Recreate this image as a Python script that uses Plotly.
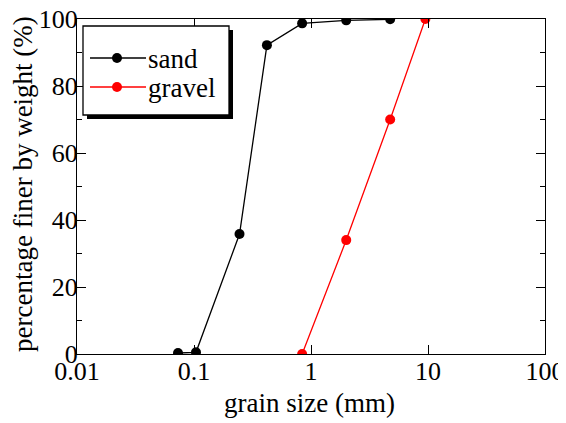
import plotly.graph_objects as go

# data
sand_size = [0.073, 0.104, 0.245, 0.42, 0.84, 2.0, 4.75]
sand_pct = [0.3, 0.5, 35.8, 92.2, 98.7, 99.6, 99.9]
gravel_size = [0.84, 2.0, 4.75, 9.5]
gravel_pct = [0.0, 34.0, 70.0, 100.0]
series_names = ["sand", "gravel"]
series_colors = ["black", "red"]

x_ticks = [0.01, 0.1, 1, 10, 100]
x_ticktext = ["0.01", "0.1", "1", "10", "100"]
y_ticks = [0, 20, 40, 60, 80, 100]
x_title = "grain size (mm)"
y_title = "percentage finer by weight (%)"

FONT = "Liberation Serif, Times New Roman, serif"

fig = go.Figure()
for name, xs, ys, col in zip(series_names, [sand_size, gravel_size], [sand_pct, gravel_pct], series_colors):
    fig.add_trace(go.Scatter(x=xs, y=ys, mode="lines+markers", name=name,
                             line=dict(color=col, width=1.3),
                             marker=dict(color=col, size=10), showlegend=False))

# page body has an 8px margin: shrink the figure so it fills the 566x423 window
OFF = 8
W, H = 566 - OFF, 423 - OFF
PL, PR, PT, PB = 77, 545, 19, 354          # plot area in window pixels
L, T = PL - OFF, PT - OFF
R, B = W + OFF - PR, H + OFF - PB
pw, ph = PR - PL, PB - PT


def px(x):
    return (x - PL) / pw


def py(y):
    return (PB - y) / ph


# legend frame with shadow (drawn manually to match the reference legend box)
fig.add_shape(type="rect", xref="paper", yref="paper", x0=px(87), x1=px(233), y0=py(119), y1=py(30),
              fillcolor="black", line=dict(width=0), layer="above")
fig.add_shape(type="rect", xref="paper", yref="paper", x0=px(83), x1=px(229), y0=py(115), y1=py(26),
              fillcolor="white", line=dict(color="black", width=1.3), layer="above")
row_y = [58, 87]
for name, col, ry in zip(series_names, series_colors, row_y):
    fig.add_shape(type="line", xref="paper", yref="paper", x0=px(90), x1=px(146), y0=py(ry), y1=py(ry),
                  line=dict(color=col, width=1.3), layer="above")
    fig.add_shape(type="circle", xref="paper", yref="paper", x0=px(112), x1=px(122), y0=py(ry + 5), y1=py(ry - 5),
                  fillcolor=col, line=dict(color=col, width=0), layer="above")
    fig.add_annotation(text=name, xref="paper", yref="paper", x=px(146), y=py(ry + 1),
                       xanchor="left", yanchor="middle", showarrow=False,
                       font=dict(family=FONT, size=27, color="black"))

# axis titles
fig.add_annotation(text=x_title, xref="paper", yref="paper", x=px(309), y=py(403),
                   xanchor="center", yanchor="middle", showarrow=False,
                   font=dict(family=FONT, size=27, color="black"))
fig.add_annotation(text=y_title, xref="paper", yref="paper", x=px(23), y=py(184), textangle=-90,
                   xanchor="center", yanchor="middle", showarrow=False,
                   font=dict(family=FONT, size=27, color="black"))

fig.update_layout(
    width=W, height=H,
    margin=dict(l=L, r=R, t=T, b=B, autoexpand=False),
    paper_bgcolor="white", plot_bgcolor="white",
    font=dict(family=FONT, size=26, color="black"),
    showlegend=False,
    xaxis=dict(type="log", range=[-2, 2], tickvals=x_ticks, ticktext=x_ticktext,
               tickfont=dict(family=FONT, size=26), ticklabelstandoff=-6,
               ticklabeloverflow="allow",
               ticks="inside", ticklen=9, tickwidth=1.3, tickcolor="black",
               showline=True, linecolor="black", linewidth=1.3, mirror="allticks",
               showgrid=False, zeroline=False, automargin=False),
    yaxis=dict(range=[0, 100], tickvals=y_ticks,
               tickfont=dict(family=FONT, size=26), ticklabelstandoff=-7,
               ticklabeloverflow="allow",
               ticks="inside", ticklen=9, tickwidth=1.3, tickcolor="black",
               minor=dict(dtick=10, ticks="inside", ticklen=5, tickwidth=1.3, tickcolor="black"),
               showline=True, linecolor="black", linewidth=1.3, mirror="allticks",
               showgrid=False, zeroline=False, automargin=False),
)

fig.write_html("out.html")
